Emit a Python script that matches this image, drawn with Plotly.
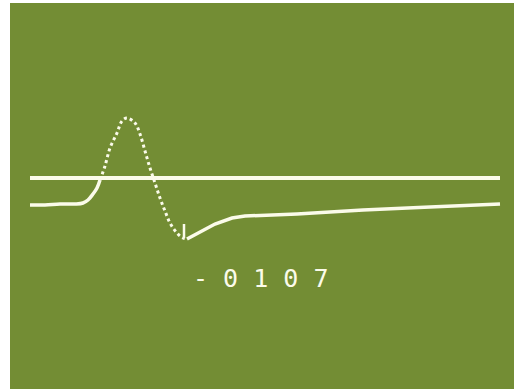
import plotly.graph_objects as go

# scope trace, time in screen units, amplitude relative to the reference line
lead_t = [30, 45, 60, 75, 83, 88, 93, 97, 100]
lead_a = [-26, -26, -25, -25, -24, -21, -15, -9, -1]

pulse_t = [100, 105, 110, 117, 122, 127, 135, 140, 145, 150, 155, 160, 165, 170, 177, 183, 187]
pulse_a = [-1, 13, 31, 46, 58, 61, 56, 45, 28, 11, -4, -19, -32, -44, -54, -59, -60]

tail_t = [187, 200, 215, 232, 245, 297, 363, 430, 500]
tail_a = [-60, -53, -45, -39, -37, -35, -31, -28, -25]

ref_t = [30, 500]
ref_a = [1, 1]

marker_t = [184, 184]
marker_a = [-45, -59]

readout = "-0107"

GREEN = "#738d34"
INK = "#fbfbea"

fig = go.Figure()
fig.add_trace(go.Scatter(x=ref_t, y=ref_a, mode="lines", line=dict(color=INK, width=4)))
fig.add_trace(go.Scatter(x=lead_t, y=lead_a, mode="lines", line=dict(color=INK, width=3.5, shape="spline")))
fig.add_trace(go.Scatter(x=pulse_t, y=pulse_a, mode="lines", line=dict(color=INK, width=3, dash="dot", shape="spline")))
fig.add_trace(go.Scatter(x=tail_t, y=tail_a, mode="lines", line=dict(color=INK, width=3.5)))
fig.add_trace(go.Scatter(x=marker_t, y=marker_a, mode="lines", line=dict(color=INK, width=2.5)))

fig.add_annotation(
    x=260, y=-99, text=" ".join(readout), showarrow=False,
    font=dict(family="DejaVu Sans Mono", size=25, color=INK),
)

fig.update_layout(
    width=524, height=391,
    margin=dict(l=10, r=10, t=3, b=2),
    paper_bgcolor="white",
    plot_bgcolor=GREEN,
    showlegend=False,
    hovermode=False,
)
fig.update_xaxes(range=[10, 514], visible=False, fixedrange=True)
fig.update_yaxes(range=[-210, 176], visible=False, fixedrange=True)

# drop the page's default body margin so the figure sits at the window's corner
fig.write_html(
    "out.html",
    config={"displayModeBar": False},
    post_script="document.body.style.margin='0';",
)
